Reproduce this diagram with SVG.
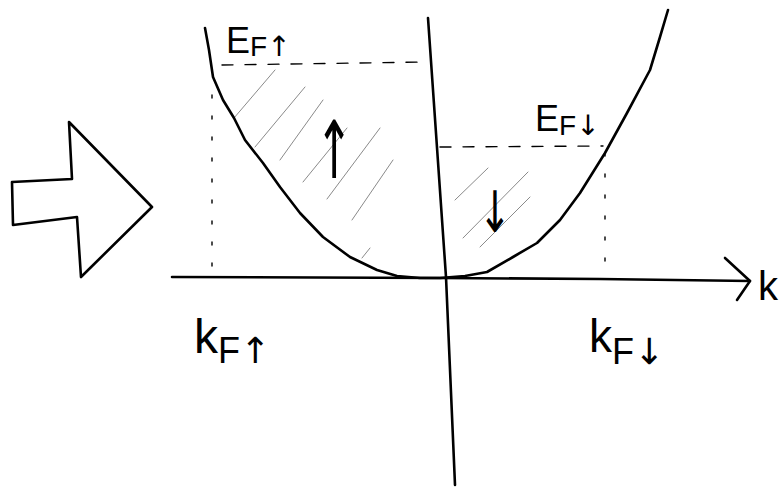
<svg xmlns="http://www.w3.org/2000/svg" width="780" height="487" viewBox="0 0 780 487">
<style>
.ink{fill:none;stroke:#000;stroke-width:2.6;stroke-linecap:round;stroke-linejoin:round}
.dash{fill:none;stroke:#000;stroke-width:1.4;stroke-dasharray:11 12;stroke-linecap:round}
.dot{fill:none;stroke:#000;stroke-width:1.4;stroke-dasharray:3 18;stroke-linecap:round}
.hatch{fill:none;stroke:#8a8a8a;stroke-width:1;stroke-linecap:round}
.lbl{font-family:"Liberation Sans","DejaVu Sans",sans-serif;fill:#000}
.arw{font-family:"DejaVu Sans",sans-serif;fill:#000}
</style>
<rect width="780" height="487" fill="#fff"/>
<g id="big-arrow">
<polygon class="ink" points="12,182 72,179 69,122 152,207 81,277 77,217 13,225"/>
</g>
<g id="axes">
<path class="ink" d="M172,277 L440,278 L600,279 L750,281"/>
<path class="ink" d="M725,258 L750,281 L737,300"/>
<path class="ink" d="M428,18 L446,277 L455,485"/>
<text class="lbl" x="758" y="300" font-size="40">k</text>
</g>
<g id="fermi-levels">
<path class="dash" d="M222,65 L428,62"/>
<path class="dash" d="M440,147 L603,146"/>
<path class="dot" d="M212,95 L212,277"/>
<path class="dot" d="M605,153 L605,277"/>
</g>
<g id="hatching">
<path class="hatch" d="M234,118 L275,70 M255,147 L305,87 M280,160 L323,100 M303,182 L347,128 M327,199 L380,128 M352,220 L393,160 M362,258 L370,248"/>
<path class="hatch" d="M455,200 L488,168 M463,238 L528,172 M480,247 L530,197"/>
</g>
<g id="dispersion">
<polyline class="ink" points="205,28 209,50 213,77 223,100 234,118 245,140 263,163 280,187 300,213 323,237 350,257 377,270 397,276 420,278 440,278 465,276 487,272 513,257 537,243 560,220 580,193 605,153 627,113 650,70 660,37 668,10"/>
</g>
<g id="labels">
<text class="lbl" x="226" y="53" font-size="36">E<tspan font-size="28" dy="3">F</tspan><tspan class="arw" font-size="28">↑</tspan></text>
<text class="lbl" x="535" y="131" font-size="36">E<tspan font-size="28" dy="4">F</tspan><tspan class="arw" font-size="28">↓</tspan></text>
<text class="arw" transform="translate(334,178) scale(0.9,1.6)" text-anchor="middle" font-size="50">↑</text>
<text class="arw" transform="translate(495,232) scale(0.9,1.3)" text-anchor="middle" font-size="44">↓</text>
<text class="lbl" x="194" y="353" font-size="48">k<tspan font-size="36" dy="10">F</tspan><tspan class="arw" font-size="36">↑</tspan></text>
<text class="lbl" x="589" y="352" font-size="46">k<tspan font-size="36" dy="12">F</tspan><tspan class="arw" font-size="36">↓</tspan></text>
</g>
</svg>
